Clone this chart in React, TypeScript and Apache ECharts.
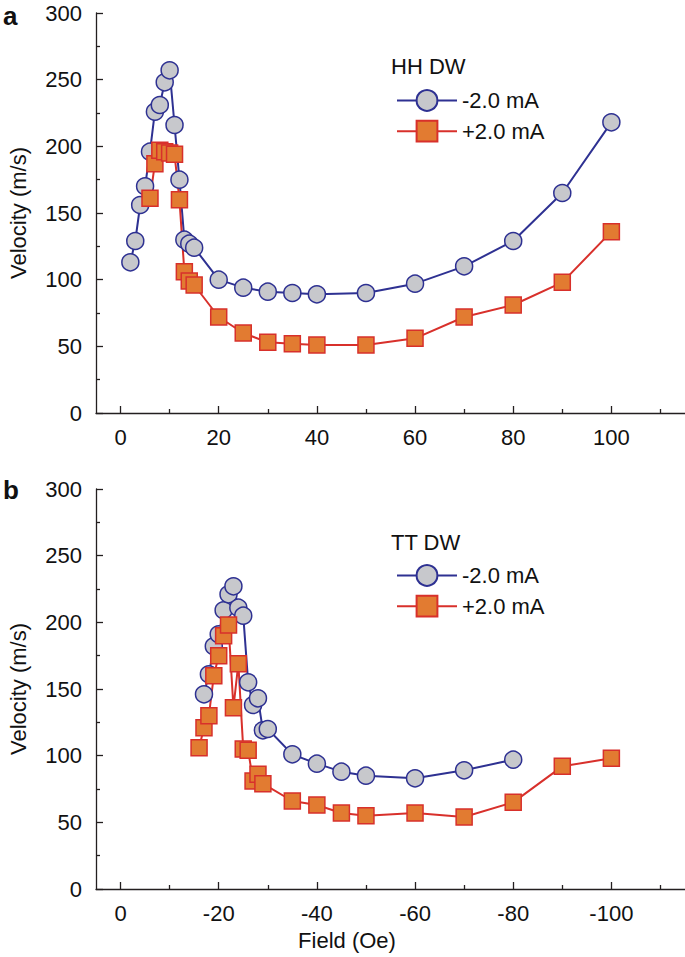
import React, { useEffect, useRef } from "react";
import * as echarts from "echarts";

// Panel a: HH DW
const hhNegX = [2, 3, 4, 5, 6, 7, 8, 9, 10, 11, 12, 13, 14, 15, 20, 25, 30, 35, 40, 50, 60, 70, 80, 90, 100];
const hhNegY = [113, 129, 156, 170, 196, 226, 231, 248, 257, 216, 175, 130, 127, 124, 100, 94, 91, 90, 89, 90, 97, 110, 129, 165, 218];
const hhPosX = [6, 7, 8, 9, 10, 11, 12, 13, 14, 15, 20, 25, 30, 35, 40, 50, 60, 70, 80, 90, 100];
const hhPosY = [161, 187, 197, 196, 195, 194, 160, 106, 99, 96, 72, 60, 53, 52, 51, 51, 56, 72, 81, 98, 136];

// Panel b: TT DW
const ttNegX = [-17, -18, -19, -20, -21, -22, -23, -24, -25, -26, -27, -28, -29, -30, -35, -40, -45, -50, -60, -70, -80];
const ttNegY = [146, 161, 182, 191, 209, 221, 227, 211, 205, 155, 138, 143, 119, 120, 101, 94, 88, 85, 83, 89, 97];
const ttPosX = [-16, -17, -18, -19, -20, -21, -22, -23, -24, -25, -26, -27, -28, -29, -35, -40, -45, -50, -60, -70, -80, -90, -100];
const ttPosY = [106, 121, 130, 160, 175, 190, 198, 136, 169, 105, 104, 81, 86, 79, 66, 63, 57, 55, 57, 54, 65, 92, 98];

const seriesNames = ["-2.0 mA", "+2.0 mA"];
const panelTitles = ["HH DW", "TT DW"];
const panelLetters = ["a", "b"];
const majorTicksA = [0, 20, 40, 60, 80, 100];
const minorTicksA = [10, 30, 50, 70, 90, 110];
const majorTicksB = [0, -20, -40, -60, -80, -100];
const minorTicksB = [-10, -30, -50, -70, -90, -110];
const yTitle = "Velocity (m/s)";
const xTitle = "Field (Oe)";

const FONT = "'Liberation Sans', Arial, Helvetica, sans-serif";
const AX = "#231f20";
const BLUE = "#2e3192";
const GRAY = "#c7c8cc";
const RED = "#d8302b";
const ORANGE = "#e27b31";

const pairs = (xs: number[], ys: number[]) => xs.map((x, i) => [x, ys[i]]);

function xAxes(gridIndex: number, inverse: boolean, min: number, max: number, major: number[], minor: number[]) {
  const line = { color: AX, width: 1.3 };
  return [
    {
      type: "value",
      gridIndex,
      min,
      max,
      inverse,
      axisLine: { show: true, onZero: false, lineStyle: line },
      axisTick: { show: true, inside: true, length: 7, customValues: major, lineStyle: line },
      axisLabel: { customValues: major, margin: 13, fontSize: 22, color: "#111", fontFamily: FONT },
      splitLine: { show: false },
    },
    {
      type: "value",
      gridIndex,
      min,
      max,
      inverse,
      position: "bottom",
      axisLine: { show: false, onZero: false },
      axisTick: { show: true, inside: true, length: 4, customValues: minor, lineStyle: line },
      axisLabel: { show: false },
      splitLine: { show: false },
    },
  ];
}

function yAxis(gridIndex: number) {
  const line = { color: AX, width: 1.3 };
  return {
    type: "value",
    gridIndex,
    min: 0,
    max: 300,
    interval: 50,
    axisLine: { show: true, onZero: false, lineStyle: line },
    axisTick: { show: true, inside: true, length: 7, lineStyle: line },
    minorTick: { show: true, splitNumber: 2, length: 4, lineStyle: line },
    axisLabel: { margin: 14, fontSize: 22, color: "#111", fontFamily: FONT },
    splitLine: { show: false },
    minorSplitLine: { show: false },
  };
}

function lineSeries(name: string, xi: number, yi: number, data: number[][], neg: boolean) {
  return {
    type: "line",
    name,
    xAxisIndex: xi,
    yAxisIndex: yi,
    data,
    symbol: neg ? "circle" : "rect",
    symbolSize: neg ? 17 : 16,
    lineStyle: { color: neg ? BLUE : RED, width: 2 },
    itemStyle: { color: neg ? GRAY : ORANGE, borderColor: neg ? BLUE : RED, borderWidth: 1.5 },
    emphasis: { disabled: true },
  };
}

function legend(top: number) {
  return {
    data: seriesNames,
    orient: "vertical",
    left: 391,
    top,
    itemWidth: 60,
    itemHeight: 26,
    itemGap: 8,
    selectedMode: false,
    textStyle: { fontSize: 22, color: "#111", fontFamily: FONT },
  };
}

function text(t: string, x: number, y: number, size: number, extra: any = {}) {
  const { bold, align, ...rest } = extra;
  return {
    type: "text",
    x,
    y,
    ...rest,
    style: {
      text: t,
      fontSize: size,
      fontFamily: FONT,
      fill: "#111",
      align: align || "left",
      verticalAlign: "middle",
      fontWeight: bold ? "bold" : "normal",
    },
  };
}

export default function App() {
  const ref = useRef<HTMLDivElement>(null);
  useEffect(() => {
    if (!ref.current) return;
    const chart = echarts.init(ref.current, null, { renderer: "svg" });
    const option: any = {
      animation: false,
      backgroundColor: "#ffffff",
      grid: [
        { left: 96, right: 0, top: 13, height: 400 },
        { left: 96, right: 0, top: 489, height: 400 },
      ],
      xAxis: [
        ...xAxes(0, false, -5, 115, majorTicksA, minorTicksA),
        ...xAxes(1, true, -115, 5, majorTicksB, minorTicksB),
      ],
      yAxis: [yAxis(0), yAxis(1)],
      legend: [legend(84), legend(559)],
      series: [
        lineSeries(seriesNames[0], 0, 0, pairs(hhNegX, hhNegY), true),
        lineSeries(seriesNames[1], 0, 0, pairs(hhPosX, hhPosY), false),
        lineSeries(seriesNames[0], 2, 1, pairs(ttNegX, ttNegY), true),
        lineSeries(seriesNames[1], 2, 1, pairs(ttPosX, ttPosY), false),
      ],
      graphic: [
        text(panelLetters[0], 3, 16, 26, { bold: true }),
        text(panelLetters[1], 3, 490, 26, { bold: true }),
        text(panelTitles[0], 391, 66, 22),
        text(panelTitles[1], 391, 542, 22),
        text(yTitle, 18, 213, 22, { rotation: Math.PI / 2, align: "center" }),
        text(yTitle, 18, 689, 22, { rotation: Math.PI / 2, align: "center" }),
        text(xTitle, 347, 940, 22, { align: "center" }),
      ],
    };
    chart.setOption(option);
    return () => chart.dispose();
  }, []);
  return (
    <div
      ref={ref}
      style={{ position: "fixed", left: 0, top: 0, width: 685, height: 957, background: "#fff" }}
    />
  );
}
